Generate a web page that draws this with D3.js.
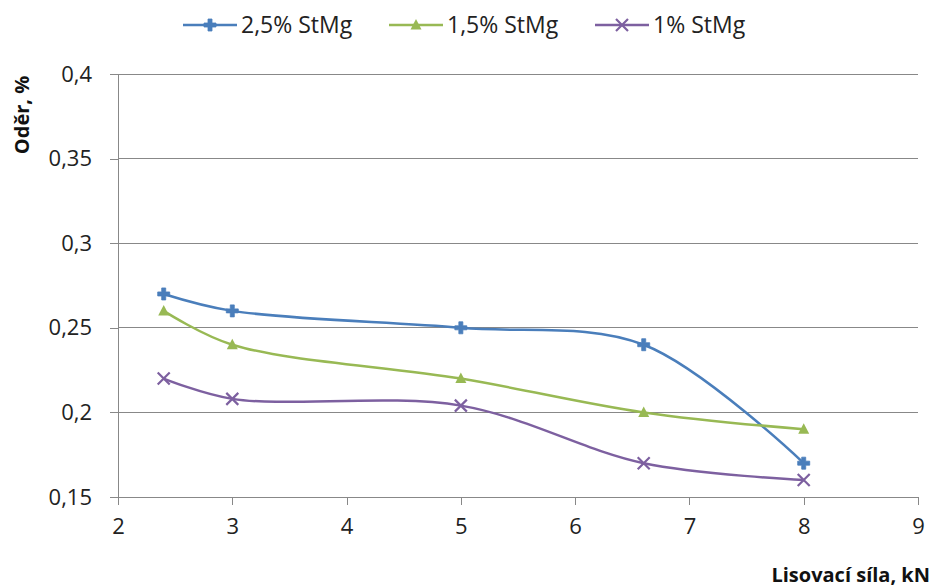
<!DOCTYPE html>
<html><head><meta charset="utf-8">
<script src="https://cdn.jsdelivr.net/npm/d3@7"></script>
<style>body{margin:0;background:#fff}text{font-family:"Open Sans",sans-serif}</style>
</head><body>
<svg id="c" width="936" height="588"></svg>
<script>
const xValues = [2.4, 3, 5, 6.6, 8];
const series25 = [0.27, 0.26, 0.25, 0.24, 0.17];
const series15 = [0.26, 0.24, 0.22, 0.20, 0.19];
const series10 = [0.22, 0.208, 0.204, 0.17, 0.16];
const seriesNames = ["2,5% StMg", "1,5% StMg", "1% StMg"];
const xTicks = [2, 3, 4, 5, 6, 7, 8, 9];
const yTicks = [0.15, 0.2, 0.25, 0.3, 0.35, 0.4];
const colors = ["#4a7ebb", "#98b954", "#7d60a0"];
const markers = ["plus", "triangle", "x"];

const svg = d3.select("#c");
const x = d3.scaleLinear().domain([2, 9]).range([118, 918]);
const y = d3.scaleLinear().domain([0.15, 0.4]).range([497, 74]);
const fmt = d => String(+d.toFixed(2)).replace(".", ",");

// gridlines
svg.append("g").selectAll("line").data(yTicks.filter(t => t > 0.15)).join("line")
  .attr("x1", x(2)).attr("x2", x(9)).attr("y1", d => y(d)).attr("y2", d => y(d))
  .attr("stroke", "#888").attr("stroke-width", 1).attr("shape-rendering", "crispEdges");

const xAxis = svg.append("g").attr("transform", `translate(0,${y(0.15)})`)
  .call(d3.axisBottom(x).tickValues(xTicks).tickSize(8).tickSizeOuter(0).tickPadding(12).tickFormat(d => d));
const yAxis = svg.append("g").attr("transform", `translate(${x(2)},0)`)
  .call(d3.axisLeft(y).tickValues(yTicks).tickSize(8).tickSizeOuter(0).tickPadding(18).tickFormat(fmt));
[xAxis, yAxis].forEach(g => {
  g.select(".domain").attr("stroke", "#888").attr("shape-rendering", "crispEdges");
  g.selectAll(".tick line").attr("stroke", "#888").attr("shape-rendering", "crispEdges");
  g.selectAll(".tick text").attr("font-size", 22).attr("fill", "#222").attr("font-family", "'Open Sans',sans-serif");
});
xAxis.selectAll(".tick text").attr("dy", "0.75em");

function drawMarker(g, type, cx, cy, color) {
  if (type === "plus") {
    const p = "M-2,-6H2V-2H6V2H2V6H-2V2H-6V-2H-2Z";
    g.append("path").attr("d", p).attr("transform", `translate(${cx},${cy})`).attr("fill", color).attr("stroke", color).attr("stroke-width", 0.8);
  } else if (type === "triangle") {
    g.append("path").attr("d", "M0,-6L5.5,4.5H-5.5Z").attr("transform", `translate(${cx},${cy})`).attr("fill", color);
  } else {
    g.append("path").attr("d", "M-6,-6L6,6M-6,6L6,-6").attr("transform", `translate(${cx},${cy})`).attr("stroke", color).attr("stroke-width", 2.2).attr("fill", "none");
  }
}

const allSeries = [series25, series15, series10];
const line = d3.line().x(d => x(d[0])).y(d => y(d[1])).curve(d3.curveCatmullRom.alpha(0.5));
allSeries.forEach((s, i) => {
  const pts = xValues.map((v, j) => [v, s[j]]);
  const g = svg.append("g");
  g.append("path").attr("d", line(pts)).attr("fill", "none").attr("stroke", colors[i]).attr("stroke-width", 2.5);
  pts.forEach(p => drawMarker(g, markers[i], x(p[0]), y(p[1]), colors[i]));
});

// legend
const legX = [183, 389, 595];
const legW = 54;
seriesNames.forEach((n, i) => {
  const g = svg.append("g");
  g.append("line").attr("x1", legX[i]).attr("x2", legX[i] + legW).attr("y1", 25).attr("y2", 25).attr("stroke", colors[i]).attr("stroke-width", 2.5);
  drawMarker(g, markers[i], legX[i] + legW / 2, 25, colors[i]);
  g.append("text").attr("x", legX[i] + legW + 4).attr("y", 25).attr("dy", "0.35em").attr("font-size", 23).attr("fill", "#222").text(n);
});

svg.append("text").attr("x", 930).attr("y", 582).attr("text-anchor", "end").attr("font-size", 20).attr("font-weight", "bold").attr("fill", "#111").text("Lisovací síla, kN");
svg.append("text").attr("transform", "translate(29,115) rotate(-90)").attr("text-anchor", "middle").attr("font-size", 20).attr("font-weight", "bold").attr("fill", "#111").text("Oděr, %");
</script>
</body></html>
